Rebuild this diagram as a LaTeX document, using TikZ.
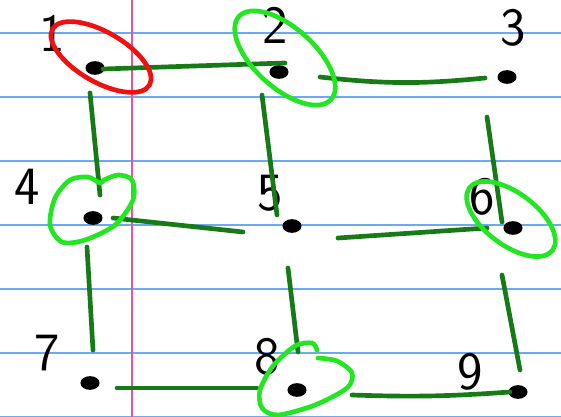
\documentclass[tikz,border=0pt]{standalone}
\usepackage{tikz}
\usetikzlibrary{calc,shapes.geometric}
\definecolor{ruleblue}{HTML}{6FA8EE}
\definecolor{marginpink}{HTML}{F0509A}
\definecolor{penred}{HTML}{F01010}
\definecolor{pengreen}{HTML}{167A16}
\definecolor{hilite}{HTML}{22E622}
\tikzset{
  % papper
  rule/.style={draw=ruleblue,line width=0.45mm},
  margin/.style={draw=marginpink,line width=0.5mm},
  % grafen
  vx/.style={ellipse,draw=black,fill=black,line width=0.5mm,inner sep=0pt,
             minimum width=5.2mm,minimum height=3.6mm},
  vl/.style={font=\sffamily\fontsize{46}{46}\selectfont,inner sep=0pt},
  ed/.style={draw=pengreen,line width=1.4mm,line cap=round},
  ring/.style={draw=hilite,line width=1.4mm,line cap=round},
  redring/.style={draw=penred,line width=1.4mm,line cap=round},
}
\begin{document}
\begin{tikzpicture}[x=0.3mm,y=-0.3mm]
  \useasboundingbox[fill=white] (0,0) rectangle (561,417);
  \foreach \y in {33,97,161,225,289,353,417}
    \draw[rule] (0,\y) -- (561,\y);
  \draw[margin] (132,0) -- (132,417);
  % noder
  \node[vx] (n1) at (95,68) {};
  \node[vx] (n2) at (279,72) {};
  \node[vx] (n3) at (507,77) {};
  \node[vx] (n4) at (93,218) {};
  \node[vx] (n5) at (292,226) {};
  \node[vx] (n6) at (513,228) {};
  \node[vx] (n7) at (90,383) {};
  \node[vx] (n8) at (297,390) {};
  \node[vx] (n9) at (518,392) {};
  \node[vl] (l1) at (52,33) {1};
  \node[vl] (l2) at (275,25) {2};
  \node[vl] (l3) at (513,28) {3};
  \node[vl] (l4) at (27,187) {4};
  \node[vl] (l5) at (270,193) {5};
  \node[vl] (l6) at (482,197) {6};
  \node[vl] (l7) at (47,353) {7};
  \node[vl] (l8) at (267,357) {8};
  \node[vl] (l9) at (470,372) {9};
  % kanter
  \draw[ed] ($(n1)+(8,1)$) -- ($(n2)+(6,-9)$);
  \draw[ed] ($(n2)+(41,5)$) to[bend right=6] ($(n3)+(-22,1)$);
  \draw[ed] ($(n1)+(-5,25)$) -- ($(n4)+(7,-23)$);
  \draw[ed] ($(n2)+(-17,23)$) -- ($(n5)+(-15,-11)$);
  \draw[ed] ($(n3)+(-20,40)$) -- ($(n6)+(-11,-6)$);
  \draw[ed] ($(n4)+(20,0)$) -- ($(n5)+(-49,6)$);
  \draw[ed] ($(n5)+(46,12)$) -- ($(n6)+(-26,0)$);
  \draw[ed] ($(n4)+(-6,29)$) -- ($(n7)+(3,-33)$);
  \draw[ed] ($(n5)+(-4,42)$) -- ($(n8)+(1,-38)$);
  \draw[ed] ($(n6)+(-11,47)$) -- ($(n9)+(2,-22)$);
  \draw[ed] ($(n7)+(27,5)$) -- ($(n8)+(-40,-2)$);
  \draw[ed] ($(n8)+(55,5)$) to[bend right=3] ($(n9)+(-8,0)$);
  % ringar
  \draw[redring,rotate around={-30:(101,57)}] (101,57) ellipse [x radius=56,y radius=25];
  \draw[ring,rotate around={-42:(285,58)}] (285,58) ellipse [x radius=62,y radius=30];
  \draw[ring,rotate around={-37:(511,219)}] (511,219) ellipse [x radius=52,y radius=26];
  \draw[ring] plot[smooth cycle] coordinates {(100,183) (88,177) (70,180) (55,198)
    (50,225) (62,242) (85,240) (115,225) (133,200) (132,180) (118,175) (104,180)};
  \draw[ring] plot[smooth] coordinates {(318,358) (337,361) (352,373) (347,388)
    (315,405) (278,415) (262,408) (260,390) (273,366) (295,346) (312,343) (317,350)};
\end{tikzpicture}
\end{document}
